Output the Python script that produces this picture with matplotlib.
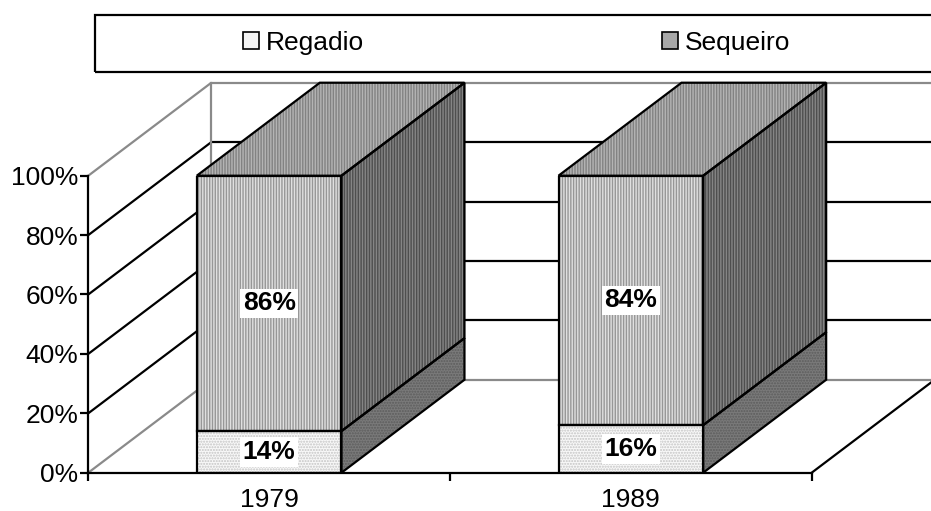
import matplotlib
matplotlib.use('Agg')
import matplotlib.pyplot as plt
from matplotlib.patches import Polygon, Rectangle, Patch

plt.rcParams['font.family'] = ['Liberation Sans', 'DejaVu Sans']
plt.rcParams['hatch.linewidth'] = 1.0

# ---- data ----
years = ['1979', '1989']
regadio = [14, 16]
sequeiro = [86, 84]
series_names = ['Regadio', 'Sequeiro']
yticks = [0, 20, 40, 60, 80, 100]
ytick_labels = ['0%', '20%', '40%', '60%', '80%', '100%']

# ---- layout / style ----
W, H = 931, 511
fig = plt.figure(figsize=(W / 100, H / 100), dpi=100)
ax = fig.add_axes([88.3 / W, (H - 472.7) / H, 723.4 / W, 297 / H])
ax.set_xlim(0, 2)
ax.set_ylim(0, 100)
ax.patch.set_visible(False)

DX = 0.340   # depth offset (category units)
DY = 31.3    # depth offset (percent units)
BW = 0.40
LW = 1.6
GRAY = '#8a8a8a'
FS = 19
xs = [i + 0.5 for i in range(len(years))]

# ---- walls & gridlines ----
for t in yticks:
    c = GRAY if t in (yticks[0], yticks[-1]) else 'black'
    ax.plot([0, DX], [t, t + DY], color=c, lw=LW, clip_on=False, zorder=1,
            solid_capstyle='butt')
    ax.plot([DX, 2 + DX], [t + DY, t + DY], color=c, lw=LW, clip_on=False,
            zorder=1, solid_capstyle='butt')
ax.plot([DX, DX], [DY, 100 + DY], color=GRAY, lw=LW, clip_on=False, zorder=1)
ax.plot([2, 2 + DX], [0, DY], color='black', lw=LW, clip_on=False, zorder=1)


def face(pts, fc, hc, hatch, z=3):
    ax.add_patch(Polygon(pts, closed=True, facecolor=fc, edgecolor=hc,
                         hatch=hatch, lw=0, clip_on=False, zorder=z))
    ax.add_patch(Polygon(pts, closed=True, fill=False, edgecolor='black',
                         lw=LW, clip_on=False, zorder=z + 0.1,
                         joinstyle='miter'))


# front faces via bar
ax.bar(xs, regadio, width=BW, color='#f8f8f8', edgecolor='#c4c4c4',
       hatch='......', lw=0, zorder=3)
ax.bar(xs, sequeiro, bottom=regadio, width=BW, color='#e0e0e0',
       edgecolor='#979797', hatch='||||||', lw=0, zorder=3)
ax.bar(xs, regadio, width=BW, fill=False, edgecolor='black', lw=LW, zorder=3.2)
ax.bar(xs, sequeiro, bottom=regadio, width=BW, fill=False, edgecolor='black',
       lw=LW, zorder=3.2)

# side & top faces
for x, r, s in zip(xs, regadio, sequeiro):
    x0, x1 = x - BW / 2, x + BW / 2
    top = r + s
    face([(x1, 0), (x1 + DX, DY), (x1 + DX, r + DY), (x1, r)],
         '#7a7a7a', '#5c5c5c', '......')
    face([(x1, r), (x1 + DX, r + DY), (x1 + DX, top + DY), (x1, top)],
         '#4e4e4e', '#858585', '||||||')
    face([(x0, top), (x1, top), (x1 + DX, top + DY), (x0 + DX, top + DY)],
         '#828282', '#b4b4b4', '||||||')
    for yc, v in ((r / 2, r), (r + s / 2, s)):
        ax.text(x, yc, f'{v}%', ha='center', va='center', fontsize=FS,
                fontweight='bold', zorder=6,
                bbox=dict(boxstyle='square,pad=0.1', fc='white', ec='none'))

# ---- axes ----
for sp in ('top', 'right'):
    ax.spines[sp].set_visible(False)
for sp in ('left', 'bottom'):
    ax.spines[sp].set_linewidth(LW)
    ax.spines[sp].set_zorder(4)
ax.set_yticks(yticks)
ax.set_yticklabels(ytick_labels, fontsize=FS)
ax.tick_params(axis='y', direction='out', length=5.8, width=LW, pad=1.5)
ax.set_xticks([0, 1, 2])
ax.set_xticklabels([])
ax.set_xticks(xs, minor=True)
ax.set_xticklabels(years, minor=True, fontsize=FS)
ax.tick_params(axis='x', which='major', direction='out', length=5.8, width=LW)
ax.tick_params(axis='x', which='minor', length=0, pad=11)

# ---- legend ----
fig.add_artist(Rectangle((95 / W, (H - 72) / H), (960 - 95) / W, 57 / H,
                         transform=fig.transFigure, fill=False,
                         edgecolor='black', lw=LW, clip_on=False))
handles = [Patch(facecolor='#f4f4f4', edgecolor='black', lw=1.2),
           Patch(facecolor='#a8a8a8', edgecolor='black', lw=1.2)]
fig.legend(handles, series_names, loc='center left',
           bbox_to_anchor=(243 / W, (H - 43) / H), frameon=False, ncol=2,
           columnspacing=11.3, handlelength=0.6, handleheight=0.6,
           handletextpad=0.27, fontsize=FS, borderpad=0, borderaxespad=0)

fig.savefig('out.png', dpi=100)
